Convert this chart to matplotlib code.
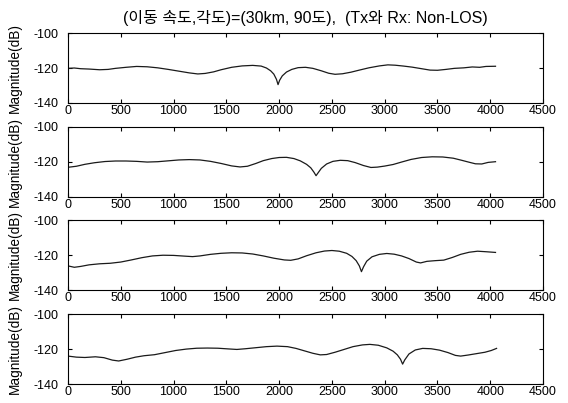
import matplotlib
matplotlib.use("Agg")
import matplotlib.pyplot as plt

plt.rcParams["font.family"] = ["Liberation Sans", "Noto Sans CJK KR", "DejaVu Sans"]
plt.rcParams["axes.unicode_minus"] = False

title_text = "(이동 속도,각도)=(30km, 90도),  (Tx와 Rx: Non-LOS)"
y_label = "Magnitude(dB)"
x_ticks = [0, 500, 1000, 1500, 2000, 2500, 3000, 3500, 4000, 4500]
y_ticks = [-140, -120, -100]

# channel magnitude per antenna path
freq1 = [0, 60, 120, 200, 300, 380, 450, 550, 650, 750, 850, 950, 1050, 1150, 1230,
         1300, 1380, 1450, 1550, 1650, 1750, 1830, 1880, 1920, 1950, 1975, 1990, 2005,
         2030, 2070, 2120, 2180, 2250, 2320, 2400, 2470, 2530, 2600, 2680, 2760, 2850,
         2950, 3030, 3100, 3180, 3260, 3350, 3430, 3500, 3580, 3660, 3750, 3830, 3900,
         3960, 4050]
mag1 = [-120.2, -120.0, -120.4, -120.6, -121.0, -120.8, -120.2, -119.6, -119.1, -119.3,
        -119.9, -120.8, -121.8, -122.8, -123.4, -123.1, -122.2, -121.0, -119.6, -118.8,
        -118.5, -118.9, -120.0, -121.6, -123.5, -126.5, -129.5, -127.0, -124.5, -122.3,
        -120.8, -119.8, -119.6, -120.2, -121.6, -123.0, -123.6, -123.3, -122.4, -121.2,
        -119.9, -118.8, -118.2, -118.4, -118.9, -119.5, -120.4, -121.2, -121.3, -120.8,
        -120.2, -119.9, -119.4, -119.6, -119.1, -119.0]

freq2 = [0, 80, 160, 250, 350, 450, 550, 650, 750, 850, 950, 1050, 1150, 1250, 1350,
         1450, 1550, 1630, 1700, 1780, 1850, 1930, 2000, 2070, 2140, 2200, 2260, 2300,
         2330, 2350, 2370, 2400, 2450, 2510, 2580, 2650, 2720, 2800, 2870, 2930, 3000,
         3080, 3160, 3250, 3350, 3450, 3550, 3650, 3730, 3800, 3860, 3920, 3980, 4050]
mag2 = [-123.2, -122.6, -121.5, -120.6, -119.9, -119.6, -119.6, -119.8, -120.2, -120.0,
        -119.5, -119.0, -118.8, -119.0, -119.8, -121.0, -122.4, -123.0, -122.6, -121.0,
        -119.4, -118.2, -117.6, -117.5, -118.2, -119.5, -121.5, -123.5, -126.0, -128.0,
        -126.3, -123.8, -121.3, -119.8, -119.2, -119.4, -120.5, -122.2, -123.3, -123.1,
        -122.5, -121.6, -120.2, -118.7, -117.6, -117.2, -117.3, -118.0, -119.2, -120.3,
        -121.2, -121.3, -120.4, -120.0]

freq3 = [0, 60, 120, 200, 300, 400, 500, 600, 700, 800, 900, 1000, 1100, 1180, 1250,
         1350, 1450, 1550, 1650, 1750, 1850, 1950, 2050, 2110, 2180, 2260, 2350, 2430,
         2500, 2570, 2640, 2690, 2730, 2760, 2780, 2800, 2830, 2880, 2950, 3020, 3090,
         3160, 3230, 3300, 3340, 3400, 3480, 3560, 3640, 3720, 3800, 3880, 3960, 4050]
mag3 = [-126.0, -126.8, -126.3, -125.4, -124.8, -124.5, -123.8, -122.6, -121.3, -120.3,
        -119.9, -120.0, -120.4, -120.7, -120.3, -119.4, -118.8, -118.5, -118.6, -119.2,
        -120.3, -121.6, -122.6, -122.8, -122.0, -120.2, -118.5, -117.5, -117.2, -117.6,
        -118.8, -120.6, -123.0, -126.0, -129.3, -126.5, -123.3, -120.8, -119.4, -118.9,
        -119.3, -120.3, -121.8, -123.8, -124.3, -123.4, -123.0, -122.7, -121.2, -119.4,
        -118.2, -117.6, -117.9, -118.3]

freq4 = [0, 80, 160, 260, 340, 420, 480, 560, 640, 720, 820, 920, 1020, 1120, 1220,
         1320, 1420, 1520, 1600, 1680, 1780, 1880, 1980, 2080, 2160, 2240, 2320, 2390,
         2450, 2530, 2610, 2700, 2790, 2860, 2940, 3020, 3080, 3120, 3150, 3170, 3190,
         3230, 3290, 3360, 3440, 3520, 3600, 3670, 3720, 3790, 3870, 3950, 4010, 4060]
mag4 = [-124.0, -124.6, -124.8, -124.4, -124.9, -126.3, -126.8, -125.8, -124.6, -123.8,
        -123.2, -122.0, -120.8, -120.0, -119.5, -119.4, -119.5, -119.9, -120.2, -119.8,
        -119.2, -118.6, -118.3, -118.6, -119.6, -121.0, -122.4, -123.3, -123.1, -121.8,
        -120.3, -118.6, -117.6, -117.3, -117.8, -119.3, -121.2, -123.3, -125.8, -128.6,
        -126.2, -122.8, -120.5, -119.6, -119.8, -120.6, -122.0, -123.6, -124.0, -123.4,
        -122.6, -121.8, -120.8, -119.6]

series = [(freq1, mag1), (freq2, mag2), (freq3, mag3), (freq4, mag4)]

fig, axes = plt.subplots(4, 1, figsize=(5.68, 4.03), dpi=100)
fig.subplots_adjust(left=0.1197, right=0.956, top=0.918, bottom=0.047, hspace=0.34)

for ax, (f, m) in zip(axes, series):
    ax.plot(f, m, color="#1a1a1a", linewidth=0.9)
    ax.set_xlim(0, 4500)
    ax.set_ylim(-140, -100)
    ax.set_xticks(x_ticks)
    ax.set_yticks(y_ticks)
    ax.tick_params(direction="in", top=True, right=True, length=3, width=0.8,
                   labelsize=9, colors="black")
    ax.tick_params(axis="x", pad=1.5)
    ax.tick_params(axis="y", pad=7)
    for sp in ax.spines.values():
        sp.set_linewidth(0.8)
        sp.set_color("black")
    ax.set_ylabel(y_label, fontsize=9.8)
    ax.yaxis.set_label_coords(-0.098, 0.5)

axes[0].set_title(title_text, fontsize=11.5, pad=7,
                  family=["Liberation Sans", "Noto Sans CJK KR"])

fig.savefig("out.png", dpi=100, facecolor="white")
